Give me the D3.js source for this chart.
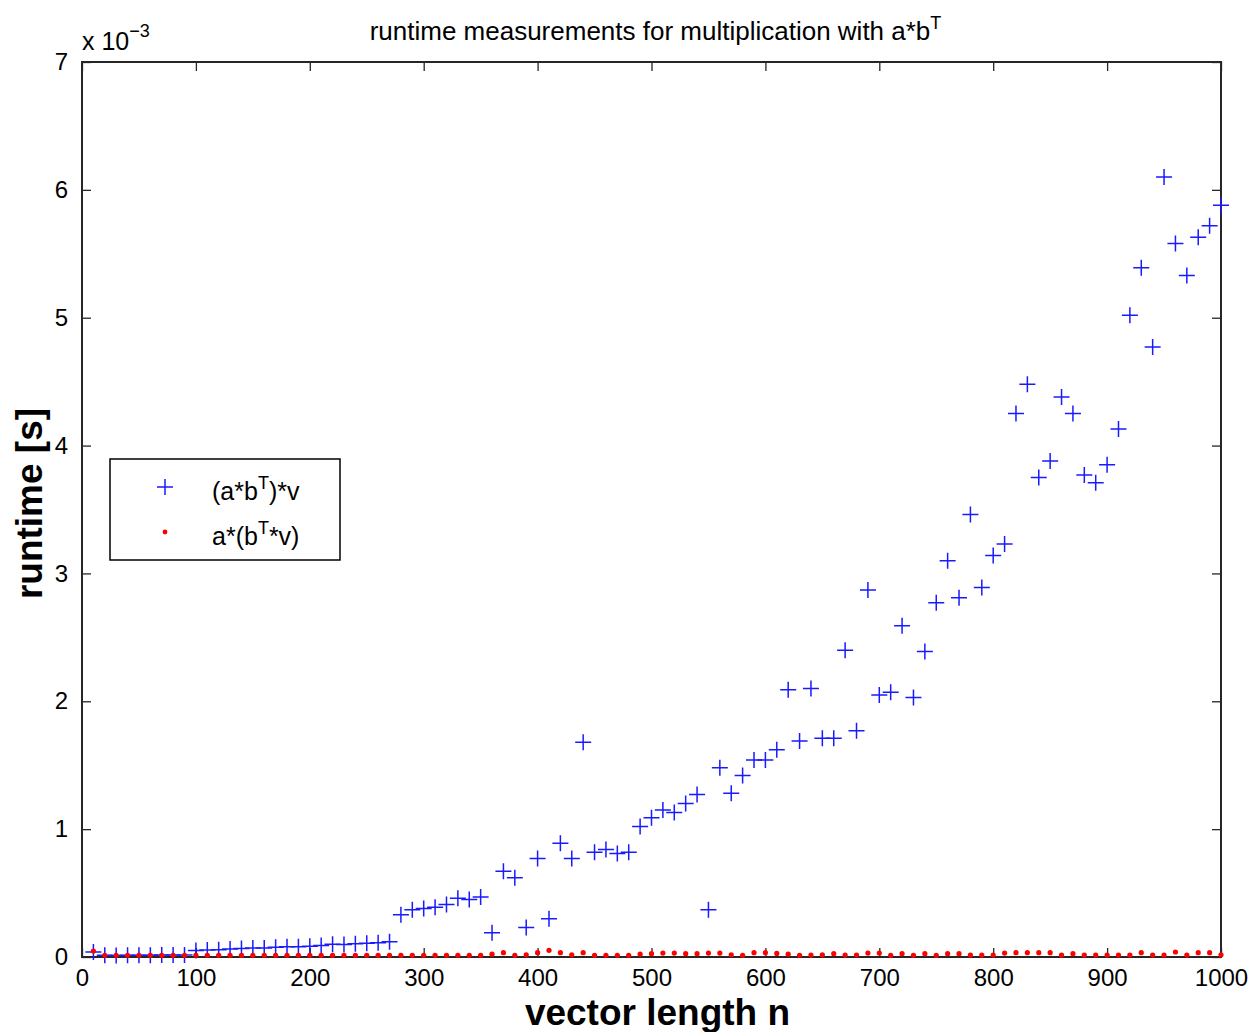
<!DOCTYPE html>
<html>
<head>
<meta charset="utf-8">
<script src="https://cdn.jsdelivr.net/npm/d3@7"></script>
<style>
  body { margin: 0; background: #fff; }
  text { font-family: "Liberation Sans", Arial, sans-serif; fill: #000; }
</style>
</head>
<body>
<script>
// vector lengths n = 10, 20, ..., 1000
const nValues = d3.range(10, 1001, 10);

// runtime of (a*b^T)*v, in units of 1e-3 s
const fullProduct = [
  0.04, 0.013, 0.012, 0.013, 0.013, 0.014, 0.015, 0.015, 0.016, 0.05,
  0.055, 0.057, 0.062, 0.066, 0.07, 0.07, 0.076, 0.08, 0.08, 0.085,
  0.09, 0.1, 0.098, 0.104, 0.108, 0.112, 0.12, 0.33, 0.37, 0.38,
  0.39, 0.41, 0.46, 0.45, 0.47, 0.19, 0.67, 0.62, 0.23, 0.77,
  0.30, 0.89, 0.77, 1.68, 0.82, 0.84, 0.81, 0.82, 1.02, 1.09,
  1.15, 1.13, 1.20, 1.27, 0.37, 1.48, 1.28, 1.42, 1.54, 1.54,
  1.62, 2.09, 1.69, 2.10, 1.71, 1.71, 2.40, 1.77, 2.87, 2.05,
  2.07, 2.59, 2.03, 2.39, 2.77, 3.10, 2.81, 3.46, 2.89, 3.14,
  3.23, 4.25, 4.48, 3.75, 3.88, 4.38, 4.25, 3.77, 3.71, 3.85,
  4.13, 5.02, 5.39, 4.77, 6.10, 5.58, 5.33, 5.63, 5.72, 5.88
];

// runtime of a*(b^T*v), in units of 1e-3 s
const splitProduct = [
  0.047, 0.013, 0.013, 0.013, 0.013, 0.013, 0.013, 0.013, 0.013, 0.013,
  0.013, 0.013, 0.013, 0.013, 0.013, 0.013, 0.013, 0.013, 0.013, 0.013,
  0.013, 0.013, 0.013, 0.013, 0.013, 0.013, 0.013, 0.013, 0.013, 0.013,
  0.013, 0.013, 0.013, 0.013, 0.013, 0.022, 0.034, 0.013, 0.017, 0.034,
  0.052, 0.034, 0.017, 0.034, 0.013, 0.013, 0.013, 0.013, 0.022, 0.026,
  0.031, 0.031, 0.026, 0.026, 0.031, 0.031, 0.017, 0.013, 0.034, 0.034,
  0.028, 0.022, 0.013, 0.015, 0.017, 0.026, 0.015, 0.015, 0.031, 0.031,
  0.013, 0.026, 0.013, 0.026, 0.013, 0.026, 0.026, 0.015, 0.015, 0.015,
  0.031, 0.034, 0.034, 0.034, 0.034, 0.015, 0.026, 0.015, 0.015, 0.015,
  0.015, 0.015, 0.034, 0.015, 0.015, 0.039, 0.015, 0.034, 0.034, 0.017
];

const xTicks = d3.range(0, 1001, 100);
const yTicks = d3.range(0, 8, 1);

const width = 1251, height = 1032;
const plotLeft = 82, plotRight = 1221, plotTop = 62, plotBottom = 957;

const svg = d3.select("body").append("svg")
    .attr("width", width)
    .attr("height", height);

const x = d3.scaleLinear().domain([0, 1000]).range([plotLeft, plotRight]);
const y = d3.scaleLinear().domain([0, 7]).range([plotBottom, plotTop]);

const tickLen = 9;

// ----- axes (ticks point inward, box on all four sides) -----
const axisColor = "#262626";

svg.append("g")
    .attr("transform", "translate(0," + plotBottom + ")")
    .call(d3.axisBottom(x).tickValues(xTicks).tickFormat(d3.format("d"))
        .tickSizeInner(-tickLen).tickSizeOuter(0).tickPadding(12))
    .call(g => g.select(".domain").remove())
    .call(g => g.selectAll("line").attr("stroke", axisColor).attr("stroke-width", 1.3))
    .call(g => g.selectAll("text").attr("font-size", 24).attr("font-family", "Liberation Sans, Arial, sans-serif"));

svg.append("g")
    .attr("transform", "translate(0," + plotTop + ")")
    .call(d3.axisTop(x).tickValues(xTicks).tickSizeInner(-tickLen).tickSizeOuter(0).tickFormat(""))
    .call(g => g.select(".domain").remove())
    .call(g => g.selectAll("line").attr("stroke", axisColor).attr("stroke-width", 1.3));

svg.append("g")
    .attr("transform", "translate(" + plotLeft + ",0)")
    .call(d3.axisLeft(y).tickValues(yTicks).tickFormat(d3.format("d"))
        .tickSizeInner(-tickLen).tickSizeOuter(0).tickPadding(14))
    .call(g => g.select(".domain").remove())
    .call(g => g.selectAll("line").attr("stroke", axisColor).attr("stroke-width", 1.3))
    .call(g => g.selectAll("text").attr("font-size", 24).attr("font-family", "Liberation Sans, Arial, sans-serif"));

svg.append("g")
    .attr("transform", "translate(" + plotRight + ",0)")
    .call(d3.axisRight(y).tickValues(yTicks).tickSizeInner(-tickLen).tickSizeOuter(0).tickFormat(""))
    .call(g => g.select(".domain").remove())
    .call(g => g.selectAll("line").attr("stroke", axisColor).attr("stroke-width", 1.3));

svg.append("rect")
    .attr("x", plotLeft)
    .attr("y", plotTop)
    .attr("width", plotRight - plotLeft)
    .attr("height", plotBottom - plotTop)
    .attr("fill", "none")
    .attr("stroke", axisColor)
    .attr("stroke-width", 2);

// ----- data marks -----
const cross = 8;

svg.append("g")
    .selectAll("path")
    .data(nValues)
    .enter()
    .append("path")
    .attr("d", (n, i) => {
        const cx = x(n), cy = y(fullProduct[i]);
        return "M" + (cx - cross) + "," + cy + "H" + (cx + cross) +
               "M" + cx + "," + (cy - cross) + "V" + (cy + cross);
    })
    .attr("stroke", "#1a1aff")
    .attr("stroke-width", 1.5)
    .attr("fill", "none");

svg.append("g")
    .selectAll("circle")
    .data(nValues)
    .enter()
    .append("circle")
    .attr("cx", n => x(n))
    .attr("cy", (n, i) => y(splitProduct[i]))
    .attr("r", 2.6)
    .attr("fill", "#ff0000");

// ----- title and labels -----
const title = svg.append("text")
    .attr("x", (plotLeft + plotRight) / 2 + 4)
    .attr("y", 40)
    .attr("text-anchor", "middle")
    .attr("font-size", 26);
title.append("tspan").text("runtime measurements for multiplication with a*b");
title.append("tspan").attr("dy", -11).attr("font-size", 18).text("T");

const expo = svg.append("text")
    .attr("x", 82)
    .attr("y", 50)
    .attr("font-size", 25);
expo.append("tspan").text("x 10");
expo.append("tspan").attr("dy", -13).attr("font-size", 18).text("\u22123");

svg.append("text")
    .attr("x", (plotLeft + plotRight) / 2 + 6)
    .attr("y", 1025)
    .attr("text-anchor", "middle")
    .attr("font-size", 37)
    .attr("font-weight", "bold")
    .text("vector length n");

svg.append("text")
    .attr("transform", "translate(42," + ((plotTop + plotBottom) / 2 - 6) + ") rotate(-90)")
    .attr("text-anchor", "middle")
    .attr("font-size", 37)
    .attr("font-weight", "bold")
    .text("runtime [s]");

// ----- legend -----
const legend = svg.append("g").attr("transform", "translate(110,459)");

legend.append("rect")
    .attr("width", 230)
    .attr("height", 101)
    .attr("fill", "#fff")
    .attr("stroke", "#000")
    .attr("stroke-width", 1.5);

legend.append("path")
    .attr("d", "M" + (55 - cross) + ",28H" + (55 + cross) + "M55," + (28 - cross) + "V" + (28 + cross))
    .attr("stroke", "#1a1aff")
    .attr("stroke-width", 1.5);

legend.append("circle")
    .attr("cx", 55)
    .attr("cy", 73)
    .attr("r", 2.4)
    .attr("fill", "#ff0000");

const l1 = legend.append("text").attr("x", 102).attr("y", 41).attr("font-size", 25);
l1.append("tspan").text("(a*b");
l1.append("tspan").attr("dy", -11).attr("font-size", 18).text("T");
l1.append("tspan").attr("dy", 11).text(")*v");

const l2 = legend.append("text").attr("x", 102).attr("y", 86).attr("font-size", 25);
l2.append("tspan").text("a*(b");
l2.append("tspan").attr("dy", -11).attr("font-size", 18).text("T");
l2.append("tspan").attr("dy", 11).text("*v)");
</script>
</body>
</html>
